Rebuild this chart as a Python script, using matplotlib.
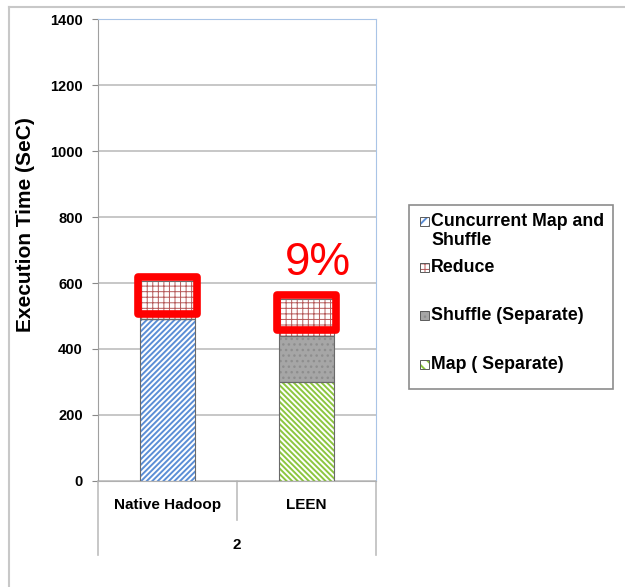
import matplotlib
matplotlib.use('Agg')
import matplotlib.pyplot as plt
from matplotlib.patches import Rectangle
from matplotlib.lines import Line2D
import numpy as np

categories = ['Native Hadoop', 'LEEN']
group_label = '2'
concurrent = [490, 0]
map_sep = [0, 300]
shuffle_sep = [0, 140]
reduce_time = [115, 110]
y_ticks = [0, 200, 400, 600, 800, 1000, 1200, 1400]
note = '9%'

# name, values, face, hatch colour, hatch, hatch line width
series = [
    ('Cuncurrent Map and\nShuffle', concurrent, 'white', '#5B8ED6', '//////', 1.4),
    ('Map ( Separate)', map_sep, 'white', '#8CC63F', '\\' * 6, 1.4),
    ('Shuffle (Separate)', shuffle_sep, '#A6A6A6', '#8E8E8E', '...', 1.0),
    ('Reduce', reduce_time, 'white', '#B55A5A', '+++', 0.7),
]

plt.rcParams['font.family'] = ['Liberation Sans', 'DejaVu Sans']

fig = plt.figure(figsize=(6.25, 5.87), dpi=100)
ax = fig.add_axes([0.1568, 0.1806, 0.4448, 0.787])

x = np.arange(len(categories))
width = 0.4
bottom = np.zeros(len(categories))
for name, vals, face, hcol, hatch, hlw in series:
    vals = np.array(vals, dtype=float)
    # hatch layer (hatch takes edge colour), then the outline on top
    with plt.rc_context({'hatch.linewidth': hlw}):
        ax.bar(x, vals, width, bottom=bottom, color=face, edgecolor=hcol,
               hatch=hatch, linewidth=0, zorder=2)
    ax.bar(x, vals, width, bottom=bottom, fill=False, edgecolor='#6A6A6A',
           linewidth=0.8, zorder=3)
    bottom += vals

# red highlight boxes round the reduce segments
red_bottom = bottom - np.array(reduce_time)
for i in range(len(categories)):
    h = reduce_time[i]
    y0 = red_bottom[i] + 0.15 * h
    y1 = bottom[i] + 0.12 * h
    ax.add_patch(Rectangle((x[i] - width / 2 - 0.01, y0), width + 0.02, y1 - y0,
                           fill=False, edgecolor='#FF0000', linewidth=5.5,
                           joinstyle='round', zorder=4))

ax.text(x[1] + 0.08, bottom[1] + 112, note, color='#FF0000', fontsize=33,
        ha='center', va='center', zorder=5)

ax.set_xlim(-0.5, 1.5)
ax.set_ylim(0, 1400)
ax.set_yticks(y_ticks)
ax.set_yticklabels([str(v) for v in y_ticks], fontweight='bold', fontsize=10.5)
ax.tick_params(axis='y', length=4, pad=7, color='#888888')
ax.set_xticks([])
ax.yaxis.grid(True, color='#BDBDBD', linewidth=1.2)
ax.set_axisbelow(True)
for s in ['top', 'right']:
    ax.spines[s].set_color('#A9C4E6')
ax.spines['left'].set_color('#A0A0A0')
ax.spines['bottom'].set_color('#B0B0B0')

ax.set_ylabel('Execution Time (SeC)', fontweight='bold', fontsize=15)
ax.yaxis.set_label_coords(-0.225, 0.554)

# category axis labels and divider lines below the plot
trans = ax.get_xaxis_transform()
for i, c in enumerate(categories):
    ax.text(x[i], -0.052, c, transform=trans, ha='center', va='center',
            fontweight='bold', fontsize=11)
ax.text(x.mean(), -0.138, group_label, transform=trans, ha='center', va='center',
        fontweight='bold', fontsize=11)
for xv, ylow in [(-0.5, -0.16), (0.5, -0.085), (1.5, -0.16)]:
    ax.plot([xv, xv], [0, ylow], transform=trans, color='#BDBDBD',
            linewidth=1.2, clip_on=False)

# legend drawn by hand to keep Excel's uneven spacing
W, H = 625, 587
def fx(px):
    return px / W
def fy(py):
    return 1 - py / H

fig.add_artist(Rectangle((fx(409), fy(389)), fx(613) - fx(409), fy(205) - fy(389),
                         transform=fig.transFigure, fill=False,
                         edgecolor='#8C8C8C', linewidth=1.2))
leg_items = [
    (series[0], 221),
    (series[3], 267),
    (series[2], 315),
    (series[1], 364),
]
for (name, vals, face, hcol, hatch, hlw), ty in leg_items:
    box = (fx(420), fy(ty + 5))
    bw, bh = fx(429) - fx(420), fy(ty - 4) - fy(ty + 5)
    with plt.rc_context({'hatch.linewidth': hlw}):
        fig.add_artist(Rectangle(box, bw, bh, transform=fig.transFigure, facecolor=face,
                                 edgecolor=hcol, hatch=hatch[:3], linewidth=0))
    fig.add_artist(Rectangle(box, bw, bh, transform=fig.transFigure, fill=False,
                             edgecolor='#5A5A5A', linewidth=0.7))
    fig.text(fx(431), fy(ty - 8), name, ha='left', va='top', fontsize=12.8,
             fontweight='bold', linespacing=1.15)

# outer frame of the original screenshot
fig.add_artist(Line2D([fx(9), 1.0], [fy(7), fy(7)], transform=fig.transFigure,
                      color='#C8C8C8', linewidth=1.5))
fig.add_artist(Line2D([fx(9), fx(9)], [fy(7), 0.0], transform=fig.transFigure,
                      color='#C8C8C8', linewidth=1.5))

fig.savefig('out.png', dpi=100)
